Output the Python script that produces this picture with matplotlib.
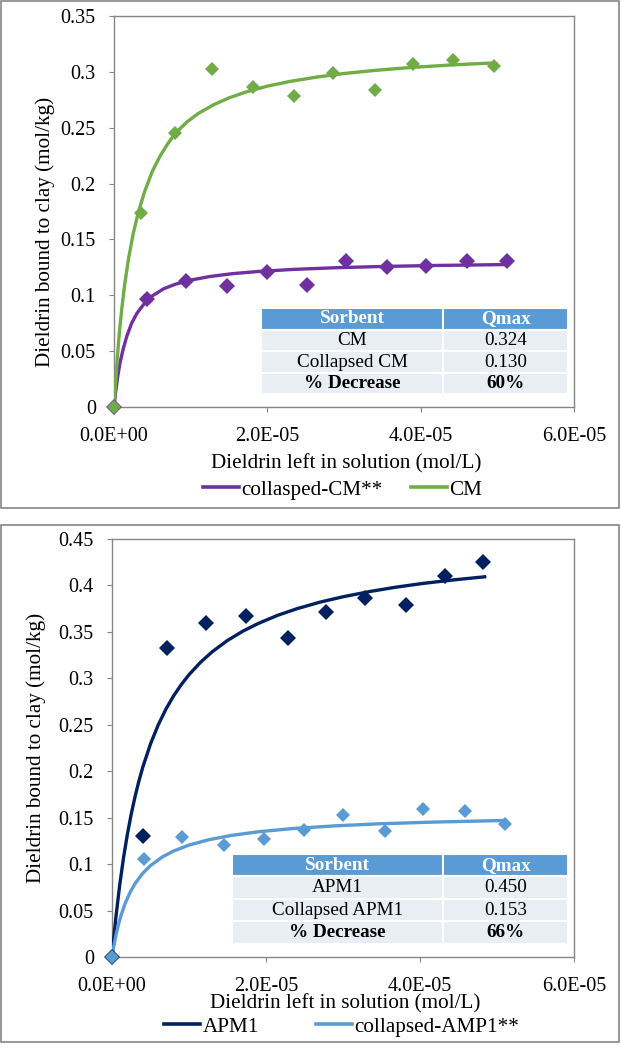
#!/usr/bin/env python3

import matplotlib
matplotlib.use('Agg')
import matplotlib.pyplot as plt
from matplotlib.lines import Line2D
from matplotlib.patches import Rectangle
from matplotlib.ticker import FuncFormatter, MultipleLocator

# Top panel: CM and collapsed CM.
cm_x = [0, 3.46e-6, 8.0e-6, 1.28e-5, 1.81e-5, 2.35e-5, 2.86e-5, 3.40e-5, 3.90e-5, 4.42e-5, 4.95e-5]
cm_y = [0, 0.174, 0.245, 0.303, 0.286, 0.278, 0.2986, 0.284, 0.3067, 0.311, 0.305]
col_cm_x = [0, 4.24e-6, 9.4e-6, 1.47e-5, 1.99e-5, 2.52e-5, 3.03e-5, 3.56e-5, 4.07e-5, 4.60e-5, 5.13e-5]
col_cm_y = [0, 0.0967, 0.113, 0.108, 0.1206, 0.109, 0.131, 0.125, 0.1265, 0.1304, 0.1307]

# Fitted curves.
cm_fit_x = [0, 2e-7, 4e-7, 7e-7, 1e-6, 1.4e-6, 1.9e-6, 2.5e-6, 3.2e-6, 4e-6, 5e-6, 6e-6,
            7e-6, 8e-6, 9.5e-6, 1.1e-5, 1.3e-5, 1.5e-5, 1.75e-5, 2.0e-5, 2.3e-5, 2.65e-5,
            3.0e-5, 3.4e-5, 3.85e-5, 4.4e-5, 4.95e-5]
cm_fit_y = [0, 0.021, 0.041, 0.067, 0.087, 0.110, 0.133, 0.155, 0.175, 0.193, 0.211, 0.2245,
            0.2355, 0.245, 0.2551, 0.2628, 0.2706, 0.2767, 0.2826, 0.2872, 0.2915, 0.2954,
            0.2985, 0.3013, 0.3038, 0.3062, 0.308]
col_cm_fit_x = [0, 2e-7, 5e-7, 8e-7, 1.2e-6, 1.7e-6, 2.3e-6, 3e-6, 4e-6, 5e-6, 6.5e-6, 8e-6,
                1e-5, 1.25e-5, 1.55e-5, 1.9e-5, 2.35e-5, 2.9e-5, 3.5e-5, 4.2e-5, 5.13e-5]
col_cm_fit_y = [0, 0.013, 0.028, 0.040, 0.052, 0.064, 0.075, 0.084, 0.093, 0.0995, 0.1059, 0.1099,
                0.1136, 0.1168, 0.1194, 0.1214, 0.1232, 0.1247, 0.1258, 0.1267, 0.1275]

# Bottom panel: APM1 and collapsed APM1.
apm1_x = [0, 4.0e-6, 7.2e-6, 1.22e-5, 1.74e-5, 2.29e-5, 2.78e-5, 3.29e-5, 3.82e-5, 4.32e-5, 4.82e-5]
apm1_y = [0, 0.130, 0.333, 0.360, 0.367, 0.343, 0.371, 0.386, 0.379, 0.410, 0.4256]
col_apm1_x = [0, 4.1e-6, 9.1e-6, 1.45e-5, 1.97e-5, 2.49e-5, 3.0e-5, 3.54e-5, 4.04e-5, 4.58e-5, 5.11e-5]
col_apm1_y = [0, 0.106, 0.1295, 0.1206, 0.1267, 0.1367, 0.1525, 0.136, 0.1597, 0.1575, 0.1428]

apm1_fit_x = [0, 2.5e-7, 5e-7, 1e-6, 1.5e-6, 2e-6, 2.5e-6, 3e-6, 3.5e-6, 4e-6, 5e-6, 6e-6,
              7e-6, 8e-6, 9e-6, 1e-5, 1.15e-5, 1.3e-5, 1.5e-5, 1.7e-5, 1.9e-5, 2.15e-5,
              2.4e-5, 2.7e-5, 3.0e-5, 3.35e-5, 3.7e-5, 4.05e-5, 4.45e-5, 4.84e-5]
apm1_fit_y = [0, 0.0222, 0.0424, 0.0775, 0.107, 0.1322, 0.154, 0.1729, 0.1896, 0.2044, 0.2294, 0.2498,
              0.2668, 0.2811, 0.2933, 0.3039, 0.3173, 0.3285, 0.3408, 0.3508, 0.3591, 0.3678,
              0.3749, 0.382, 0.3878, 0.3935, 0.3983, 0.4023, 0.4061, 0.4093]
col_apm1_fit_x = [0, 2e-7, 5e-7, 8e-7, 1.2e-6, 1.7e-6, 2.3e-6, 3e-6, 4e-6, 5e-6, 6.5e-6, 8e-6,
                  1e-5, 1.25e-5, 1.55e-5, 1.9e-5, 2.35e-5, 2.9e-5, 3.5e-5, 4.2e-5, 5.11e-5]
col_apm1_fit_y = [0, 0.0101, 0.0229, 0.0337, 0.0455, 0.0575, 0.0688, 0.0791, 0.0902, 0.0984, 0.1075, 0.1141,
                  0.1205, 0.1261, 0.1309, 0.1348, 0.1383, 0.1412, 0.1435, 0.1453, 0.147]

# Qmax tables.
top_table = [["CM", "0.324"], ["Collapsed CM", "0.130"], ["% Decrease", "60%"]]
bottom_table = [["APM1", "0.450"], ["Collapsed APM1", "0.153"], ["% Decrease", "66%"]]
table_header = ["Sorbent", "Qmax"]

GREEN = '#70AD47'
PURPLE = '#7030A0'
NAVY = '#002060'
LIGHT_BLUE = '#5B9BD5'
GREY = '#868686'

FIG_W, FIG_H = 621, 1050


def fig_rect(left, top, right, bottom):
    """Pixel box (from top-left) to figure fraction rect."""
    return [left / FIG_W, 1 - bottom / FIG_H, (right - left) / FIG_W, (bottom - top) / FIG_H]


def x_fmt(v, pos):
    return f"{v:.1E}"


def y_fmt(v, pos):
    return f"{v:g}"


def style_axes(ax, ymax, ystep, ylabel_pos, xlabel_y):
    ax.set_xlim(0, 6e-5)
    ax.set_ylim(0, ymax)
    ax.xaxis.set_major_locator(MultipleLocator(2e-5))
    ax.yaxis.set_major_locator(MultipleLocator(ystep))
    ax.xaxis.set_major_formatter(FuncFormatter(x_fmt))
    ax.yaxis.set_major_formatter(FuncFormatter(y_fmt))
    for sp in ax.spines.values():
        sp.set_color(GREY)
        sp.set_linewidth(1.0)
    ax.tick_params(axis='both', direction='out', length=3.6, color=GREY, labelsize=14.5)
    ax.tick_params(axis='x', pad=11)
    ax.tick_params(axis='y', pad=9.5)
    ax.set_xlabel("Dieldrin left in solution (mol/L)", fontsize=15.2)
    ax.set_ylabel("Dieldrin bound to clay (mol/kg)", fontsize=15.2)
    ax.yaxis.set_label_coords(*ylabel_pos)
    ax.xaxis.set_label_coords(0.505, xlabel_y)


def draw_table(ax, rows, bbox, split):
    cells = [table_header] + rows
    tab = ax.table(cellText=cells, cellLoc='center', bbox=bbox,
                   colWidths=[split, 1 - split], zorder=5)
    tab.auto_set_font_size(False)
    for (r, c), cell in tab.get_celld().items():
        cell.set_edgecolor('white')
        cell.set_linewidth(1.5)
        txt = cell.get_text()
        txt.set_fontsize(13.8)
        if r == 0:
            cell.set_facecolor(LIGHT_BLUE)
            txt.set_color('white')
            txt.set_fontweight('bold')
        else:
            cell.set_facecolor('#E9EDF4')
            if r == len(cells) - 1:
                txt.set_fontweight('bold')
    return tab


def draw_panel(fig, box, ax_box, series, ymax, ystep, rows, table_bbox, split,
               legend_pos, col_space, ylabel_pos, xlabel_y):
    # Outer border of the panel.
    fig.patches.append(Rectangle((box[0], box[1]), box[2], box[3],
                                 transform=fig.transFigure, fill=False,
                                 edgecolor=GREY, linewidth=1.2))
    ax = fig.add_axes(ax_box)
    handles = []
    for px, py, fx, fy, color, ms, label in series:
        ax.plot(fx, fy, color=color, lw=2.4, zorder=3, solid_joinstyle='round')
        ax.plot(px, py, 'D', color=color, ms=ms, mew=0, zorder=4, clip_on=False)
        handles.append(Line2D([], [], color=color, lw=2.6, label=label))
    style_axes(ax, ymax, ystep, ylabel_pos, xlabel_y)
    draw_table(ax, rows, table_bbox, split)
    ax.legend(handles=handles, loc='center', ncol=2, frameon=False,
              bbox_to_anchor=legend_pos, fontsize=15.2,
              handlelength=1.7, handletextpad=0.12, columnspacing=col_space)
    return ax


def main():
    plt.rcParams['font.family'] = ['Liberation Serif', 'DejaVu Serif']
    plt.rcParams['text.color'] = 'black'

    fig = plt.figure(figsize=(FIG_W / 100, FIG_H / 100), dpi=100)

    top_series = [
        (col_cm_x, col_cm_y, col_cm_fit_x, col_cm_fit_y, PURPLE, 8.5, "collasped-CM**"),
        (cm_x, cm_y, cm_fit_x, cm_fit_y, GREEN, 7, "CM"),
    ]
    draw_panel(fig, fig_rect(1, 1, 619, 508), fig_rect(114, 16, 574, 407),
               top_series, 0.35, 0.05, top_table,
               [0.320, 0.032, 0.667, 0.221], 0.593, (0.497, -0.212), 1.35,
               (-0.128, 0.447), -0.120)

    bottom_series = [
        (apm1_x, apm1_y, apm1_fit_x, apm1_fit_y, NAVY, 8.5, "APM1"),
        (col_apm1_x, col_apm1_y, col_apm1_fit_x, col_apm1_fit_y, LIGHT_BLUE, 7,
         "collapsed-AMP1**"),
    ]
    draw_panel(fig, fig_rect(1, 525, 619, 1042), fig_rect(112, 539, 574, 957),
               bottom_series, 0.45, 0.05, bottom_table,
               [0.259, 0.031, 0.729, 0.216], 0.628, (0.497, -0.167), 2.7,
               (-0.143, 0.5), -0.089)

    fig.savefig('out.png', dpi=100)


if __name__ == '__main__':
    main()
